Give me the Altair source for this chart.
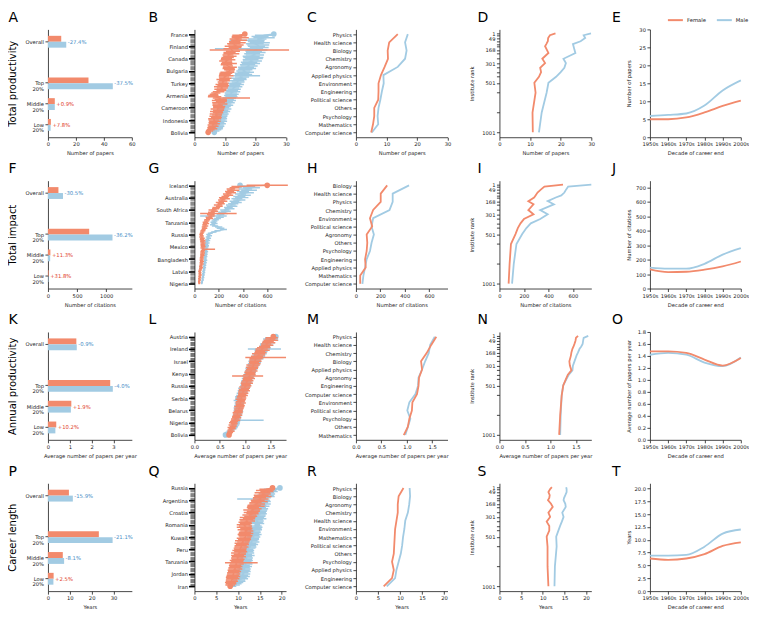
import json
import altair as alt
import pandas as pd

FEMALE_COLOR = "#F28A6C"
MALE_COLOR = "#A2CBE3"
NEG_TEXT = "#4A8FC7"
POS_TEXT = "#E2452F"
FONT = "DejaVu Sans"
GENDERS = ["Female", "Male"]
COLOR_SCALE = alt.Scale(domain=GENDERS, range=[FEMALE_COLOR, MALE_COLOR])

ROW_TITLES = ["Total productivity", "Total impact", "Annual productivity", "Career length"]
X_TITLES = ["Number of papers", "Number of citations", "Average number of papers per year", "Years"]
LETTERS = [list("ABCDE"), list("FGHIJ"), list("KLMNO"), list("PQRST")]

# ---------- column A: group bars ----------
GROUPS = ["Overall", "Top 20%", "Middle 20%", "Low 20%"]
BAR_F = [[9.5, 29.0, 4.9, 2.1], [180, 708, 42, 12], [1.30, 2.85, 1.07, 0.38], [9.6, 23.3, 6.8, 2.6]]
BAR_M = [[13.1, 46.4, 4.9, 1.9], [258, 1108, 38, 9], [1.32, 2.97, 1.05, 0.34], [11.4, 29.6, 7.4, 2.5]]
BAR_PCT = [["-27.4%", "-37.5%", "+0.9%", "+7.8%"], ["-30.5%", "-36.2%", "+11.3%", "+31.8%"],
           ["-0.9%", "-4.0%", "+1.9%", "+10.2%"], ["-15.9%", "-21.1%", "-8.1%", "+2.5%"]]
BAR_XDOM = [[0, 60], [0, 1440], [0, 3.84], [0, 38.4]]
BAR_XTICKS = [[0, 20, 40, 60], [0, 500, 1000], [0, 1, 2, 3], [0, 10, 20, 30]]

# ---------- column B: countries (81 per panel, labelled every 10th) ----------
COUNTRY_LABELS = [
    ["France", "Finland", "Canada", "Bulgaria", "Turkey", "Armenia", "Cameroon", "Indonesia", "Bolivia"],
    ["Iceland", "Australia", "South Africa", "Tanzania", "Russia", "Mexico", "Bangladesh", "Latvia", "Nigeria"],
    ["Austria", "Ireland", "Israel", "Kenya", "Russia", "Serbia", "Belarus", "Nigeria", "Bolivia"],
    ["Russia", "Argentina", "Croatia", "Romania", "Kuwait", "Peru", "Tanzania", "Jordan", "Iran"],
]
B_F = [16.5, 14.8, 14.0, 15.0, 13.5, 14.6, 13.2, 14.1, 12.9, 13.6,
       12.7, 13.3, 12.0, 12.2, 12.6, 11.5, 12.1, 11.0, 11.6, 10.9,
       10.5, 11.0, 10.2, 10.7, 11.3, 10.5, 11.0, 11.6, 11.2, 11.5,
       11.6, 10.8, 10.3, 10.0, 10.4, 9.7, 10.1, 9.4, 9.8, 9.2,
       9.5, 9.0, 9.4, 8.7, 9.1, 8.5, 8.8, 7.9, 7.0, 6.4,
       6.2, 6.6, 8.0, 8.6, 8.2, 8.8, 7.9, 8.4, 7.6, 8.1,
       8.0, 7.5, 7.9, 7.2, 7.7, 7.0, 7.4, 6.8, 7.2, 6.6,
       6.3, 6.7, 6.1, 6.5, 5.9, 6.2, 5.6, 5.9, 5.3, 5.0, 4.5]
B_FH = [0.6, 2.4, 1.8, 2.8, 2.0, 2.6, 1.9, 2.7, 2.2, 2.5,
        2.8, 2.1, 2.5, 2.0, 2.3, 2.0, 2.6, 1.8, 2.2, 2.0,
        1.8, 2.4, 2.1, 1.7, 2.6, 1.9, 1.6, 2.3, 2.0, 1.8,
        1.4, 2.3, 2.1, 1.9, 2.4, 1.7, 2.0, 2.2, 1.8, 1.6,
        1.7, 2.1, 1.9, 2.3, 1.8, 2.0, 1.6, 1.9, 1.5, 1.4,
        1.7, 2.2, 2.0, 2.0, 2.5, 1.8, 2.1, 2.4, 1.7, 2.0,
        1.9, 2.2, 1.8, 2.1, 1.7, 2.0, 1.6, 1.9, 1.8, 2.1,
        1.7, 1.9, 1.5, 1.8, 1.6, 1.7, 1.4, 1.6, 1.3, 1.1, 0.6]
B_M = [26.0, 23.0, 21.5, 22.8, 20.6, 21.9, 20.2, 21.4, 19.8, 20.9,
       20.3, 21.2, 19.6, 20.5, 19.4, 20.1, 18.9, 19.8, 18.6, 19.3,
       19.5, 18.4, 19.0, 17.9, 18.5, 17.4, 17.9, 16.9, 17.3, 16.6,
       16.0, 16.8, 15.6, 16.1, 15.0, 15.6, 14.5, 14.9, 13.9, 14.3,
       13.2, 13.8, 12.9, 13.4, 12.6, 13.0, 12.2, 12.7, 11.9, 12.3,
       11.8, 12.1, 11.4, 11.0, 11.5, 10.6, 11.0, 10.2, 10.6, 9.9,
       9.5, 10.0, 9.3, 9.7, 9.0, 9.4, 8.8, 9.1, 8.6, 8.9,
       8.5, 8.8, 8.2, 8.5, 7.9, 8.2, 7.6, 7.8, 7.2, 6.9, 6.5]
B_MH = [0.6, 3.2, 2.8, 3.5, 3.0, 3.4, 2.7, 3.3, 2.9, 3.6,
        2.8, 3.1, 3.0, 3.4, 2.7, 3.2, 2.6, 3.0, 2.8, 3.3,
        2.9, 2.6, 3.1, 2.7, 3.0, 2.5, 2.8, 2.6, 2.9, 2.4,
        2.3, 2.7, 2.4, 2.8, 2.6, 2.3, 2.5, 2.2, 2.4, 2.1,
        2.2, 2.4, 2.1, 2.3, 2.0, 2.2, 2.1, 2.3, 2.0, 2.2,
        2.1, 2.0, 2.2, 1.9, 2.1, 2.0, 2.2, 1.9, 2.1, 2.0,
        1.9, 2.1, 1.8, 2.0, 1.9, 1.8, 2.0, 1.7, 1.9, 1.8,
        1.7, 1.9, 1.6, 1.8, 1.7, 1.6, 1.8, 1.5, 1.6, 1.3, 0.6]
B_WIDE = {("Female", 13): (5.0, 31.0), ("Female", 52): (6.0, 18.2),
          ("Male", 5): (11.6, 23.0), ("Male", 12): (6.7, 22.5), ("Male", 34): (12.7, 21.5)}

G_F = [600, 350, 330, 300, 320, 290, 300, 270, 280, 255,
       240, 250, 225, 235, 210, 220, 195, 205, 180, 175,
       150, 165, 140, 150, 135, 140, 120, 125, 105, 100,
       90, 95, 85, 90, 80, 84, 75, 70, 65, 60,
       55, 60, 58, 65, 62, 70, 66, 72, 68, 70,
       72, 68, 75, 70, 66, 68, 64, 66, 62, 60,
       60, 58, 62, 56, 60, 54, 52, 55, 50, 48,
       42, 46, 44, 48, 42, 45, 40, 43, 38, 40, 40]
G_FH = [170, 45, 40, 35, 50, 38, 42, 35, 40, 32,
        38, 42, 30, 36, 34, 30, 35, 28, 32, 30,
        34, 30, 28, 30, 32, 26, 28, 30, 24, 22,
        22, 26, 20, 24, 20, 22, 18, 20, 17, 16,
        15, 16, 18, 20, 18, 22, 19, 21, 18, 20,
        20, 18, 22, 18, 17, 19, 16, 18, 15, 16,
        16, 15, 17, 14, 16, 13, 14, 15, 12, 13,
        11, 12, 11, 13, 10, 12, 10, 11, 9, 10, 8]
G_M = [376, 440, 470, 420, 450, 400, 430, 380, 410, 370,
       390, 350, 370, 330, 345, 320, 300, 310, 280, 290,
       250, 260, 230, 240, 215, 200, 210, 190, 175, 165,
       156, 165, 150, 170, 200, 215, 240, 190, 160, 130,
       115, 125, 110, 118, 105, 112, 100, 108, 98, 104,
       101, 96, 100, 94, 98, 92, 95, 90, 93, 88,
       88, 92, 85, 89, 82, 86, 80, 84, 78, 80,
       74, 78, 72, 75, 70, 72, 66, 69, 63, 62, 60]
G_MH = [15, 60, 70, 55, 65, 50, 60, 45, 55, 50,
        55, 45, 50, 40, 45, 42, 40, 44, 36, 40,
        38, 40, 34, 36, 32, 30, 32, 28, 26, 24,
        24, 26, 22, 26, 30, 32, 28, 25, 22, 20,
        18, 20, 17, 19, 16, 18, 15, 17, 15, 16,
        16, 14, 16, 13, 15, 13, 14, 12, 14, 12,
        13, 14, 12, 13, 11, 12, 11, 12, 10, 11,
        10, 11, 10, 10, 9, 10, 8, 9, 8, 8, 6]
G_WIDE = {("Female", 23): (47, 348), ("Female", 52): (60, 170), ("Male", 25): (47, 266)}

L_F = [1.55, 1.52, 1.49, 1.50, 1.45, 1.46, 1.41, 1.43, 1.38, 1.36,
       1.32, 1.34, 1.29, 1.30, 1.26, 1.28, 1.23, 1.25, 1.21, 1.19,
       1.20, 1.17, 1.19, 1.15, 1.16, 1.13, 1.14, 1.11, 1.12, 1.09,
       1.10, 1.08, 1.09, 1.06, 1.07, 1.04, 1.05, 1.02, 1.03, 1.01,
       1.02, 0.99, 1.00, 0.97, 0.98, 0.95, 0.96, 0.94, 0.95, 0.92,
       0.93, 0.91, 0.92, 0.90, 0.91, 0.89, 0.90, 0.88, 0.89, 0.87,
       0.87, 0.86, 0.85, 0.84, 0.85, 0.82, 0.83, 0.80, 0.81, 0.78,
       0.76, 0.78, 0.75, 0.76, 0.73, 0.74, 0.71, 0.72, 0.70, 0.69, 0.68]
L_FH = [0.03, 0.12, 0.10, 0.14, 0.11, 0.13, 0.10, 0.12, 0.11, 0.13,
        0.12, 0.14, 0.10, 0.12, 0.13, 0.11, 0.12, 0.10, 0.13, 0.11,
        0.12, 0.10, 0.11, 0.13, 0.10, 0.12, 0.11, 0.10, 0.12, 0.11,
        0.10, 0.12, 0.11, 0.10, 0.12, 0.09, 0.11, 0.10, 0.12, 0.09,
        0.10, 0.11, 0.09, 0.10, 0.11, 0.09, 0.10, 0.08, 0.10, 0.09,
        0.09, 0.10, 0.08, 0.09, 0.10, 0.08, 0.09, 0.10, 0.08, 0.09,
        0.08, 0.09, 0.10, 0.08, 0.09, 0.08, 0.09, 0.08, 0.09, 0.08,
        0.08, 0.07, 0.08, 0.07, 0.08, 0.07, 0.06, 0.07, 0.06, 0.05, 0.04]
L_M = [1.60, 1.50, 1.47, 1.52, 1.44, 1.46, 1.40, 1.42, 1.37, 1.38,
       1.33, 1.31, 1.32, 1.28, 1.29, 1.25, 1.27, 1.22, 1.24, 1.20,
       1.18, 1.21, 1.16, 1.17, 1.14, 1.15, 1.12, 1.13, 1.10, 1.11,
       1.08, 1.09, 1.06, 1.07, 1.04, 1.05, 1.02, 1.03, 1.00, 1.01,
       0.99, 1.00, 0.97, 0.98, 0.95, 0.96, 0.93, 0.94, 0.91, 0.90,
       0.86, 0.89, 0.87, 0.90, 0.88, 0.89, 0.87, 0.88, 0.86, 0.87,
       0.86, 0.88, 0.85, 0.86, 0.84, 0.85, 0.83, 0.84, 0.82, 0.83,
       0.81, 0.82, 0.80, 0.79, 0.77, 0.76, 0.73, 0.70, 0.66, 0.63, 0.61]
L_MH = [0.03, 0.11, 0.12, 0.13, 0.10, 0.12, 0.11, 0.13, 0.10, 0.12,
        0.11, 0.13, 0.12, 0.10, 0.13, 0.11, 0.12, 0.10, 0.12, 0.11,
        0.12, 0.10, 0.11, 0.12, 0.10, 0.11, 0.12, 0.10, 0.11, 0.10,
        0.10, 0.11, 0.12, 0.10, 0.11, 0.09, 0.10, 0.11, 0.09, 0.10,
        0.09, 0.10, 0.11, 0.09, 0.10, 0.09, 0.10, 0.08, 0.09, 0.10,
        0.03, 0.09, 0.10, 0.08, 0.09, 0.08, 0.09, 0.08, 0.09, 0.08,
        0.09, 0.08, 0.07, 0.08, 0.09, 0.07, 0.08, 0.07, 0.08, 0.07,
        0.08, 0.07, 0.08, 0.07, 0.08, 0.07, 0.06, 0.07, 0.06, 0.05, 0.03]
L_WIDE = {("Female", 17): (1.00, 1.80), ("Female", 32): (0.74, 1.35),
          ("Male", 10): (1.05, 1.70), ("Male", 68): (0.75, 1.36)}

Q_F = [17.9, 16.5, 16.0, 16.6, 15.6, 16.1, 15.3, 15.7, 14.9, 15.2,
       14.5, 14.9, 14.0, 14.4, 13.7, 14.1, 13.4, 13.8, 13.1, 13.5,
       13.0, 13.3, 12.6, 12.9, 12.2, 12.5, 11.9, 12.2, 11.6, 11.8,
       11.3, 11.7, 11.4, 11.9, 11.5, 12.0, 11.6, 11.8, 11.4, 11.7,
       11.7, 11.3, 11.5, 11.0, 11.2, 10.8, 11.0, 10.6, 10.8, 10.5,
       10.5, 10.3, 10.6, 10.1, 10.4, 9.9, 10.2, 9.8, 10.0, 9.7,
       9.8, 9.5, 9.7, 9.3, 9.5, 9.2, 9.4, 9.0, 9.2, 8.9,
       9.0, 8.8, 8.9, 8.6, 8.8, 8.5, 8.6, 8.3, 8.4, 8.2, 8.2]
Q_FH = [0.4, 1.6, 1.9, 1.5, 1.8, 1.4, 1.7, 2.0, 1.5, 1.8,
        1.6, 1.9, 1.4, 1.8, 1.5, 2.0, 1.4, 1.6, 1.9, 1.5,
        1.7, 1.4, 1.6, 1.5, 1.8, 1.4, 1.6, 1.7, 1.5, 1.4,
        1.6, 1.5, 1.7, 1.4, 1.6, 1.5, 1.4, 1.7, 1.5, 1.6,
        1.4, 1.6, 1.5, 1.7, 1.4, 1.6, 1.5, 1.4, 1.6, 1.5,
        1.4, 1.6, 1.5, 1.7, 1.4, 1.5, 1.6, 1.4, 1.5, 1.6,
        1.4, 1.5, 1.6, 1.4, 1.5, 1.4, 1.6, 1.4, 1.5, 1.4,
        1.5, 1.4, 1.6, 1.4, 1.5, 1.3, 1.4, 1.3, 1.2, 1.1, 0.4]
Q_M = [19.6, 17.5, 17.0, 17.6, 16.6, 17.1, 16.3, 16.8, 16.0, 16.4,
       15.6, 16.0, 15.3, 15.7, 15.1, 15.5, 14.9, 15.3, 14.8, 15.2,
       14.8, 15.1, 14.6, 14.9, 14.4, 14.7, 14.2, 14.5, 14.1, 14.3,
       14.4, 13.9, 14.2, 13.7, 14.0, 13.5, 13.8, 13.4, 13.7, 13.5,
       13.6, 13.2, 13.4, 13.0, 13.2, 12.8, 13.0, 12.6, 12.8, 12.4,
       12.0, 12.3, 11.9, 12.2, 11.8, 12.1, 11.7, 12.0, 11.6, 11.9,
       11.7, 11.5, 11.8, 11.3, 11.6, 11.2, 11.5, 11.1, 11.4, 11.0,
       11.3, 10.9, 11.1, 10.6, 10.8, 10.2, 10.4, 9.8, 9.6, 9.3, 9.0]
Q_MH = [0.4, 1.6, 1.8, 1.5, 1.7, 1.4, 1.9, 1.6, 1.5, 1.8,
        1.7, 1.5, 1.6, 1.8, 1.4, 1.7, 1.5, 1.6, 1.9, 1.4,
        1.6, 1.5, 1.7, 1.4, 1.6, 1.8, 1.5, 1.4, 1.6, 1.7,
        0.4, 1.5, 1.4, 1.7, 1.5, 1.6, 1.4, 1.5, 1.7, 1.4,
        1.5, 1.6, 1.4, 1.5, 1.7, 1.4, 1.6, 1.5, 1.4, 1.6,
        1.5, 1.4, 1.6, 1.5, 1.4, 1.7, 1.5, 1.4, 1.6, 1.5,
        1.4, 1.6, 1.5, 1.4, 1.6, 1.5, 1.4, 1.6, 1.5, 1.4,
        1.5, 1.4, 1.6, 1.4, 1.5, 1.4, 1.3, 1.4, 1.2, 1.1, 0.6]
Q_WIDE = {("Female", 61): (7.0, 14.5), ("Male", 9): (9.8, 16.5)}

COUNTRY_F = [B_F, G_F, L_F, Q_F]
COUNTRY_FH = [B_FH, G_FH, L_FH, Q_FH]
COUNTRY_M = [B_M, G_M, L_M, Q_M]
COUNTRY_MH = [B_MH, G_MH, L_MH, Q_MH]
COUNTRY_WIDE = [B_WIDE, G_WIDE, L_WIDE, Q_WIDE]
COUNTRY_CIRCLES_F = [[0, 80], [0], [0, 80], [0, 80]]
COUNTRY_CIRCLES_M = [[0, 80], [0], [0, 50, 80], [0, 30]]
COUNTRY_XDOM = [[0, 30], [0, 755], [0, 1.8], [0, 21]]
COUNTRY_XTICKS = [[0, 10, 20, 30], [0, 200, 400, 600], [0.0, 0.5, 1.0, 1.5], [0, 5, 10, 15, 20]]
X_FORMATS = ["d", "d", ".1f", "d"]

# ---------- column C: fields ----------
FIELDS = [
    ["Physics", "Health science", "Biology", "Chemistry", "Agronomy", "Applied physics", "Environment",
     "Engineering", "Political science", "Others", "Psychology", "Mathematics", "Computer science"],
    ["Biology", "Health science", "Physics", "Chemistry", "Environment", "Political science", "Agronomy",
     "Others", "Psychology", "Engineering", "Applied physics", "Mathematics", "Computer science"],
    ["Physics", "Health science", "Chemistry", "Biology", "Applied physics", "Agronomy", "Engineering",
     "Computer science", "Environment", "Political science", "Psychology", "Others", "Mathematics"],
    ["Physics", "Biology", "Agronomy", "Chemistry", "Health science", "Environment", "Mathematics",
     "Political science", "Others", "Psychology", "Applied physics", "Engineering", "Computer science"],
]
FIELD_F = [
    [13.7, 10.9, 10.4, 10.5, 9.4, 8.2, 7.4, 7.4, 7.3, 6.0, 6.0, 5.6, 5.0],
    [256, 203, 203, 141, 115, 133, 88, 93, 88, 75, 80, 35, 35],
    [1.58, 1.48, 1.39, 1.28, 1.30, 1.24, 1.23, 1.20, 1.11, 1.10, 1.05, 1.02, 0.94],
    [10.8, 9.7, 9.5, 9.5, 9.2, 8.9, 8.8, 8.7, 8.6, 8.2, 8.6, 8.2, 6.3],
]
FIELD_M = [
    [17.0, 16.1, 16.6, 16.1, 13.7, 9.0, 9.1, 8.5, 8.0, 7.4, 7.1, 7.3, 5.2],
    [435, 301, 301, 275, 141, 128, 147, 128, 115, 88, 75, 61, 53],
    [1.55, 1.46, 1.43, 1.36, 1.30, 1.23, 1.22, 1.17, 1.05, 1.01, 1.07, 1.02, 0.97],
    [12.2, 12.3, 12.1, 11.8, 11.2, 11.0, 10.7, 10.5, 10.2, 9.7, 9.2, 8.9, 7.0],
]
FIELD_XDOM = [[0, 30], [0, 750], [0, 1.8], [0, 20.8]]
FIELD_XTICKS = [[0, 10, 20, 30], [0, 200, 400, 600], [0.0, 0.5, 1.0, 1.5], [0, 5, 10, 15, 20]]

# ---------- column D: institute rank ----------
RANK_BINS = [1, 20, 49, 81, 110, 131, 168, 200, 258, 301, 349, 392, 440, 501, 601, 801, 1001]
RANK_LABELS = [1, 49, 168, 301, 501, 1001]
RANK_F = [
    [18.3, 16.5, 15.9, 15.8, 15.3, 14.9, 15.5, 16.0, 14.0, 14.9, 13.3, 13.6, 12.9, 11.4, 11.8, 10.8, 10.9],
    [519, 367, 340, 311, 295, 283, 236, 278, 236, 278, 200, 172, 150, 131, 94, 83, 75],
    [1.54, 1.50, 1.49, 1.47, 1.45, 1.43, 1.41, 1.40, 1.37, 1.38, 1.41, 1.34, 1.30, 1.25, 1.22, 1.19, 1.17],
    [12.1, 11.7, 11.3, 11.6, 11.5, 11.2, 11.9, 12.3, 11.3, 11.7, 10.9, 11.5, 11.5, 10.9, 11.1, 11.1, 11.3],
]
RANK_M = [
    [29.9, 27.5, 28.0, 26.5, 24.0, 24.2, 24.5, 24.8, 20.9, 21.7, 21.2, 20.0, 18.5, 16.0, 15.4, 13.8, 12.9],
    [750, 561, 545, 530, 505, 460, 394, 444, 333, 394, 333, 256, 220, 186, 139, 117, 103],
    [1.74, 1.65, 1.64, 1.63, 1.60, 1.57, 1.54, 1.51, 1.47, 1.44, 1.43, 1.36, 1.31, 1.25, 1.22, 1.20, 1.19],
    [15.4, 15.5, 15.5, 15.2, 14.9, 14.8, 15.2, 15.3, 14.5, 14.8, 14.4, 14.0, 13.6, 13.1, 13.2, 12.8, 12.7],
]
RANK_XDOM = [[0, 30], [0, 750], [0, 1.8], [0, 21.2]]
RANK_XTICKS = FIELD_XTICKS

# ---------- column E: decades ----------
DECADES = ["1950s", "1960s", "1970s", "1980s", "1990s", "2000s"]
DEC_F = [[5.0, 5.0, 5.5, 6.9, 8.7, 10.2], [132, 114, 116, 130, 153, 187],
         [1.475, 1.475, 1.45, 1.34, 1.24, 1.365], [6.35, 6.1, 6.35, 7.2, 8.8, 9.5]]
DEC_M = [[5.9, 6.2, 6.6, 8.8, 13.0, 15.8], [144, 137, 137, 171, 235, 280],
         [1.42, 1.45, 1.42, 1.29, 1.23, 1.375], [6.9, 6.9, 7.05, 8.65, 11.2, 12.0]]
DEC_YTITLES = ["Number of papers", "Number of citations", "Average number of papers per year", "Years"]
DEC_YDOM = [[0, 30], [0, 746], [0, 1.8], [0, 21]]
DEC_YTICKS = [[0, 5, 10, 15, 20, 25, 30], [0, 100, 200, 300, 400, 500, 600, 700],
              [0.0, 0.2, 0.4, 0.6, 0.8, 1.0, 1.2, 1.4, 1.6, 1.8],
              [0.0, 2.5, 5.0, 7.5, 10.0, 12.5, 15.0, 17.5, 20.0]]
DEC_FORMATS = ["d", "d", ".1f", ".1f"]

# ---------- layout (the whole figure must fit the 741 x 603 page area) ----------
H = 108
PLOT_W = [84, 91.7, 91.7, 92, 91]
PANEL_W = [94.9, 109.3, 91.7, 98.6, 91]
COL_GAP = 51.7
ROW_GAP = 43.5
LETTER_X = [-39.5, -46, -49, -22, -38]
LETTER_Y = -18.5


def letter_layer(text, col):
    return alt.Chart(pd.DataFrame({"letter": [text]})).mark_text(
        align="left", baseline="top", fontSize=14, font=FONT, color="black"
    ).encode(x=alt.value(LETTER_X[col]), y=alt.value(LETTER_Y), text="letter:N")


def color_enc(legend=None):
    if legend is None:
        return alt.Color("gender:N", scale=COLOR_SCALE, legend=None)
    return alt.Color("gender:N", scale=COLOR_SCALE, legend=legend)


def bar_panel(r):
    rows = []
    for g, vals in (("Female", BAR_F[r]), ("Male", BAR_M[r])):
        for grp, v in zip(GROUPS, vals):
            rows.append({"group": grp, "gender": g, "value": v})
    df = pd.DataFrame(rows)
    ann = pd.DataFrame({"group": GROUPS,
                        "x": [max(a, b) for a, b in zip(BAR_F[r], BAR_M[r])],
                        "label": BAR_PCT[r],
                        "neg": [p.startswith("-") for p in BAR_PCT[r]]})
    xs = alt.Scale(domain=BAR_XDOM[r], range=[0, PLOT_W[0]], nice=False, zero=False)
    ys = alt.Scale(domain=["Overall", "~", "Top 20%", "Middle 20%", "Low 20%"], paddingInner=0.43, paddingOuter=0.31)
    xaxis = alt.Axis(values=BAR_XTICKS[r], format="d", title=X_TITLES[r])
    yaxis = alt.Axis(values=GROUPS, labelExpr="split(datum.value, ' ')", title=ROW_TITLES[r],
                     titleFontSize=10, titleX=-35, titleBaseline="middle", titleAngle=270,
                     labelLineHeight=5.6, titleColor="black")
    bars = alt.Chart(df).mark_bar().encode(
        x=alt.X("value:Q", scale=xs, axis=xaxis),
        y=alt.Y("group:N", scale=ys, axis=yaxis),
        yOffset=alt.YOffset("gender:N", scale=alt.Scale(domain=GENDERS)),
        color=color_enc(),
    )
    txt = alt.Chart(ann).mark_text(align="left", baseline="middle", dx=1.5, fontSize=5.3, font=FONT).encode(
        x=alt.X("x:Q", scale=xs, axis=xaxis),
        y=alt.Y("group:N", scale=ys, axis=yaxis),
        text="label:N",
        color=alt.condition("datum.neg", alt.value(NEG_TEXT), alt.value(POS_TEXT)),
    )
    return alt.layer(bars, txt, letter_layer(LETTERS[r][0], 0)).properties(width=PANEL_W[0], height=H)


def country_panel(r):
    fm, fh, mm, mh = COUNTRY_F[r], COUNTRY_FH[r], COUNTRY_M[r], COUNTRY_MH[r]
    wide = COUNTRY_WIDE[r]
    n = len(fm)
    rows = []
    for g, means, hws, circ in (("Male", mm, mh, COUNTRY_CIRCLES_M[r]), ("Female", fm, fh, COUNTRY_CIRCLES_F[r])):
        for i, (v, h) in enumerate(zip(means, hws)):
            lo, hi = wide.get((g, i), (v - h, v + h))
            rows.append({"idx": i, "gender": g, "mean": v, "lo": lo, "hi": hi, "circle": i in circ})
    df = pd.DataFrame(rows)
    names = json.dumps(COUNTRY_LABELS[r])
    test = "datum.value % 10 === 0"
    xs = alt.Scale(domain=COUNTRY_XDOM[r], range=[0, PLOT_W[1]], nice=False, zero=False)
    ys = alt.Scale(domain=[-3.8, n - 1 + 4.0], reverse=True, nice=False, zero=False)
    xaxis = alt.Axis(values=COUNTRY_XTICKS[r], format=X_FORMATS[r], title=X_TITLES[r])
    yaxis = alt.Axis(values=list(range(n)), title=None, labelBound=False,
                     labelExpr=f"{test} ? {names}[datum.value / 10] : ''",
                     tickColor={"condition": {"test": test, "value": "black"}, "value": "#4d4d4d"},
                     tickWidth={"condition": {"test": test, "value": 1.6}, "value": 0.8},
                     tickSize={"condition": {"test": test, "value": 6}, "value": 4.5},
                     labelPadding=1)
    layers = []
    for g in ("Male", "Female"):
        base = alt.Chart(df).transform_filter(f"datum.gender === '{g}'")
        rule = base.mark_rule(strokeWidth=1.5, clip=True).encode(
            x=alt.X("lo:Q", scale=xs, axis=xaxis),
            x2="hi:Q",
            y=alt.Y("idx:Q", scale=ys, axis=yaxis),
            color=color_enc(),
        )
        line = base.mark_line(strokeWidth=1.4, clip=True).encode(
            x=alt.X("mean:Q", scale=xs, axis=xaxis), y=alt.Y("idx:Q", scale=ys, axis=yaxis),
            order="idx:Q", color=color_enc())
        pts = base.transform_filter("datum.circle").mark_circle(size=32, opacity=1, clip=True).encode(
            x=alt.X("mean:Q", scale=xs, axis=xaxis), y=alt.Y("idx:Q", scale=ys, axis=yaxis), color=color_enc())
        layers += [rule, line, pts]
    layers.append(letter_layer(LETTERS[r][1], 1))
    return alt.layer(*layers).properties(width=PANEL_W[1], height=H)


def field_panel(r):
    rows = []
    for g, vals in (("Male", FIELD_M[r]), ("Female", FIELD_F[r])):
        for i, (f, v) in enumerate(zip(FIELDS[r], vals)):
            rows.append({"field": f, "order": i, "gender": g, "value": v})
    df = pd.DataFrame(rows)
    xs = alt.Scale(domain=FIELD_XDOM[r], range=[0, PLOT_W[2]], nice=False, zero=False)
    ys = alt.Scale(type="point", domain=FIELDS[r], padding=0.58)
    xaxis = alt.Axis(values=FIELD_XTICKS[r], format=X_FORMATS[r], title=X_TITLES[r])
    yaxis = alt.Axis(title=None, labelPadding=1.5)
    layers = []
    for g in ("Male", "Female"):
        layers.append(alt.Chart(df).transform_filter(f"datum.gender === '{g}'").mark_line(strokeWidth=1.8).encode(
            x=alt.X("value:Q", scale=xs, axis=xaxis),
            y=alt.Y("field:N", scale=ys, axis=yaxis),
            order="order:Q",
            color=color_enc(),
        ))
    layers.append(letter_layer(LETTERS[r][2], 2))
    return alt.layer(*layers).properties(width=PANEL_W[2], height=H)


def rank_panel(r):
    rows = []
    for g, vals in (("Male", RANK_M[r]), ("Female", RANK_F[r])):
        for b, v in zip(RANK_BINS, vals):
            rows.append({"rank": b, "gender": g, "value": v})
    df = pd.DataFrame(rows)
    xs = alt.Scale(domain=RANK_XDOM[r], range=[0, PLOT_W[3]], nice=False, zero=False)
    ys = alt.Scale(domain=[-39, 1051], reverse=True, nice=False, zero=False)
    lab = json.dumps(RANK_LABELS)
    xaxis = alt.Axis(values=RANK_XTICKS[r], format=X_FORMATS[r], title=X_TITLES[r])
    yaxis = alt.Axis(values=RANK_BINS, labelBound=False, format="d",
                     labelExpr=f"indexof({lab}, datum.value) >= 0 ? datum.label : ''",
                     title="Institute rank", titleX=-27.7, titleBaseline="middle", titleAngle=270)
    layers = []
    for g in ("Male", "Female"):
        layers.append(alt.Chart(df).transform_filter(f"datum.gender === '{g}'").mark_line(strokeWidth=1.8).encode(
            x=alt.X("value:Q", scale=xs, axis=xaxis),
            y=alt.Y("rank:Q", scale=ys, axis=yaxis),
            order="rank:Q",
            color=color_enc(),
        ))
    layers.append(letter_layer(LETTERS[r][3], 3))
    return alt.layer(*layers).properties(width=PANEL_W[3], height=H)


def decade_panel(r):
    rows = []
    for g, vals in (("Male", DEC_M[r]), ("Female", DEC_F[r])):
        for d, v in zip(DECADES, vals):
            rows.append({"decade": d, "gender": g, "value": v})
    df = pd.DataFrame(rows)
    legend = None
    if r == 0:
        legend = alt.Legend(orient="none", legendX=17, legendY=-18, direction="horizontal", title=None,
                            symbolType="stroke", symbolStrokeWidth=2, symbolSize=225, labelFontSize=5.3,
                            labelFont=FONT, columnPadding=6, labelOffset=3, padding=0)
    lines = alt.Chart(df).mark_line(strokeWidth=1.8, interpolate="monotone").encode(
        x=alt.X("decade:N", scale=alt.Scale(type="point", domain=DECADES, padding=0),
                axis=alt.Axis(labelAngle=0, title="Decade of career end")),
        y=alt.Y("value:Q", scale=alt.Scale(domain=DEC_YDOM[r], nice=False, zero=False),
                axis=alt.Axis(values=DEC_YTICKS[r], format=DEC_FORMATS[r], title=DEC_YTITLES[r],
                              titleX=-21, titleBaseline="middle", titleAngle=270)),
        color=color_enc(legend),
    )
    return alt.layer(lines, letter_layer(LETTERS[r][4], 4)).properties(width=PANEL_W[4], height=H)


panels = []
for r in range(4):
    panels += [bar_panel(r), country_panel(r), field_panel(r), rank_panel(r), decade_panel(r)]

chart = alt.concat(*panels, columns=5, spacing={"row": ROW_GAP, "column": COL_GAP}, bounds="flush").resolve_scale(
    color="independent"
).properties(
    padding={"left": 0, "top": 2, "right": 0, "bottom": 0}
).configure_view(stroke=None).configure_axis(
    labelFont=FONT, titleFont=FONT, labelFontSize=5.2, titleFontSize=5.2, titleFontWeight="normal",
    labelColor="#1a1a1a", titleColor="#1a1a1a", domainColor="#1a1a1a", tickColor="#1a1a1a",
    domainWidth=0.8, tickWidth=0.8, tickSize=3, labelPadding=1.5, titlePadding=4, grid=False,
    labelOverlap=False, labelFlush=False,
).configure_legend(labelFont=FONT, labelColor="#1a1a1a")

chart.save("out.html", embed_options={"renderer": "svg", "actions": False})
